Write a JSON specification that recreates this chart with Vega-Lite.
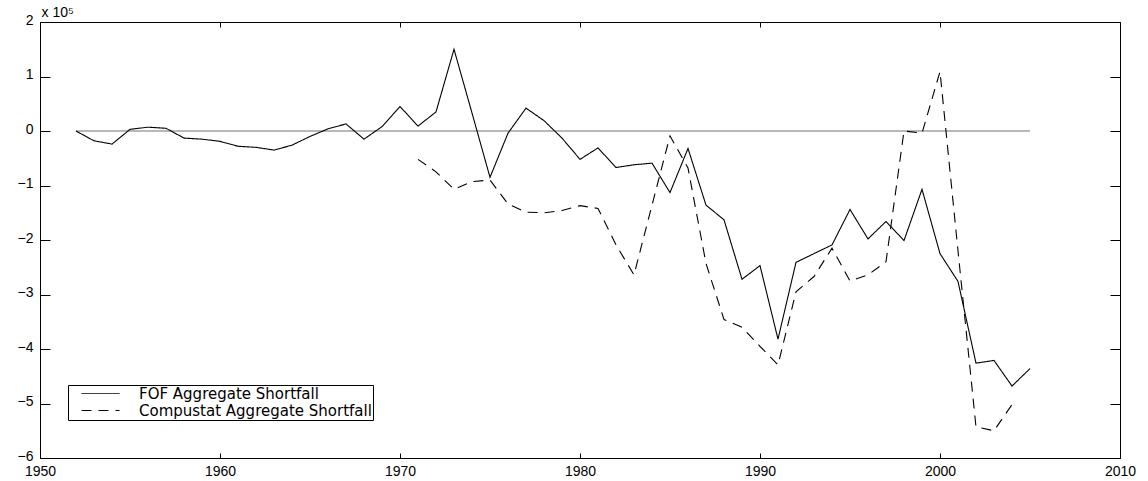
{
  "$schema": "https://vega.github.io/schema/vega-lite/v6.json",
  "width": 1080,
  "height": 436,
  "autosize": "none",
  "padding": {"left": 40, "top": 22, "right": 28, "bottom": 23},
  "background": "white",
  "config": {
    "view": {"stroke": null},
    "font": "Liberation Sans"
  },
  "datasets": {
    "zero": [
      {"year": 1952, "value": 0},
      {"year": 2005, "value": 0}
    ],
    "series": [
      {"year": 1952, "value": 0, "series": "FOF Aggregate Shortfall"},
      {"year": 1953, "value": -18000, "series": "FOF Aggregate Shortfall"},
      {"year": 1954, "value": -24000, "series": "FOF Aggregate Shortfall"},
      {"year": 1955, "value": 3000, "series": "FOF Aggregate Shortfall"},
      {"year": 1956, "value": 7000, "series": "FOF Aggregate Shortfall"},
      {"year": 1957, "value": 5000, "series": "FOF Aggregate Shortfall"},
      {"year": 1958, "value": -13000, "series": "FOF Aggregate Shortfall"},
      {"year": 1959, "value": -15000, "series": "FOF Aggregate Shortfall"},
      {"year": 1960, "value": -19000, "series": "FOF Aggregate Shortfall"},
      {"year": 1961, "value": -28000, "series": "FOF Aggregate Shortfall"},
      {"year": 1962, "value": -30000, "series": "FOF Aggregate Shortfall"},
      {"year": 1963, "value": -35000, "series": "FOF Aggregate Shortfall"},
      {"year": 1964, "value": -26000, "series": "FOF Aggregate Shortfall"},
      {"year": 1965, "value": -10000, "series": "FOF Aggregate Shortfall"},
      {"year": 1966, "value": 4000, "series": "FOF Aggregate Shortfall"},
      {"year": 1967, "value": 13000, "series": "FOF Aggregate Shortfall"},
      {"year": 1968, "value": -15000, "series": "FOF Aggregate Shortfall"},
      {"year": 1969, "value": 8000, "series": "FOF Aggregate Shortfall"},
      {"year": 1970, "value": 45000, "series": "FOF Aggregate Shortfall"},
      {"year": 1971, "value": 9000, "series": "FOF Aggregate Shortfall"},
      {"year": 1972, "value": 35000, "series": "FOF Aggregate Shortfall"},
      {"year": 1973, "value": 150000, "series": "FOF Aggregate Shortfall"},
      {"year": 1974, "value": 33000, "series": "FOF Aggregate Shortfall"},
      {"year": 1975, "value": -85000, "series": "FOF Aggregate Shortfall"},
      {"year": 1976, "value": -4000, "series": "FOF Aggregate Shortfall"},
      {"year": 1977, "value": 42000, "series": "FOF Aggregate Shortfall"},
      {"year": 1978, "value": 19000, "series": "FOF Aggregate Shortfall"},
      {"year": 1979, "value": -13000, "series": "FOF Aggregate Shortfall"},
      {"year": 1980, "value": -52000, "series": "FOF Aggregate Shortfall"},
      {"year": 1981, "value": -31000, "series": "FOF Aggregate Shortfall"},
      {"year": 1982, "value": -67000, "series": "FOF Aggregate Shortfall"},
      {"year": 1983, "value": -62000, "series": "FOF Aggregate Shortfall"},
      {"year": 1984, "value": -59000, "series": "FOF Aggregate Shortfall"},
      {"year": 1985, "value": -113000, "series": "FOF Aggregate Shortfall"},
      {"year": 1986, "value": -32000, "series": "FOF Aggregate Shortfall"},
      {"year": 1987, "value": -136000, "series": "FOF Aggregate Shortfall"},
      {"year": 1988, "value": -163000, "series": "FOF Aggregate Shortfall"},
      {"year": 1989, "value": -272000, "series": "FOF Aggregate Shortfall"},
      {"year": 1990, "value": -247000, "series": "FOF Aggregate Shortfall"},
      {"year": 1991, "value": -382000, "series": "FOF Aggregate Shortfall"},
      {"year": 1992, "value": -241000, "series": "FOF Aggregate Shortfall"},
      {"year": 1993, "value": -225000, "series": "FOF Aggregate Shortfall"},
      {"year": 1994, "value": -209000, "series": "FOF Aggregate Shortfall"},
      {"year": 1995, "value": -144000, "series": "FOF Aggregate Shortfall"},
      {"year": 1996, "value": -198000, "series": "FOF Aggregate Shortfall"},
      {"year": 1997, "value": -166000, "series": "FOF Aggregate Shortfall"},
      {"year": 1998, "value": -201000, "series": "FOF Aggregate Shortfall"},
      {"year": 1999, "value": -107000, "series": "FOF Aggregate Shortfall"},
      {"year": 2000, "value": -225000, "series": "FOF Aggregate Shortfall"},
      {"year": 2001, "value": -276000, "series": "FOF Aggregate Shortfall"},
      {"year": 2002, "value": -426000, "series": "FOF Aggregate Shortfall"},
      {"year": 2003, "value": -421000, "series": "FOF Aggregate Shortfall"},
      {"year": 2004, "value": -468000, "series": "FOF Aggregate Shortfall"},
      {"year": 2005, "value": -436000, "series": "FOF Aggregate Shortfall"},
      {"year": 1971, "value": -52000, "series": "Compustat Aggregate Shortfall"},
      {"year": 1972, "value": -75000, "series": "Compustat Aggregate Shortfall"},
      {"year": 1973, "value": -107000, "series": "Compustat Aggregate Shortfall"},
      {"year": 1974, "value": -93000, "series": "Compustat Aggregate Shortfall"},
      {"year": 1975, "value": -90000, "series": "Compustat Aggregate Shortfall"},
      {"year": 1976, "value": -134000, "series": "Compustat Aggregate Shortfall"},
      {"year": 1977, "value": -149000, "series": "Compustat Aggregate Shortfall"},
      {"year": 1978, "value": -150000, "series": "Compustat Aggregate Shortfall"},
      {"year": 1979, "value": -146000, "series": "Compustat Aggregate Shortfall"},
      {"year": 1980, "value": -137000, "series": "Compustat Aggregate Shortfall"},
      {"year": 1981, "value": -142000, "series": "Compustat Aggregate Shortfall"},
      {"year": 1982, "value": -209000, "series": "Compustat Aggregate Shortfall"},
      {"year": 1983, "value": -264000, "series": "Compustat Aggregate Shortfall"},
      {"year": 1984, "value": -136000, "series": "Compustat Aggregate Shortfall"},
      {"year": 1985, "value": -9000, "series": "Compustat Aggregate Shortfall"},
      {"year": 1986, "value": -68000, "series": "Compustat Aggregate Shortfall"},
      {"year": 1987, "value": -243000, "series": "Compustat Aggregate Shortfall"},
      {"year": 1988, "value": -346000, "series": "Compustat Aggregate Shortfall"},
      {"year": 1989, "value": -360000, "series": "Compustat Aggregate Shortfall"},
      {"year": 1990, "value": -395000, "series": "Compustat Aggregate Shortfall"},
      {"year": 1991, "value": -429000, "series": "Compustat Aggregate Shortfall"},
      {"year": 1992, "value": -295000, "series": "Compustat Aggregate Shortfall"},
      {"year": 1993, "value": -267000, "series": "Compustat Aggregate Shortfall"},
      {"year": 1994, "value": -215000, "series": "Compustat Aggregate Shortfall"},
      {"year": 1995, "value": -275000, "series": "Compustat Aggregate Shortfall"},
      {"year": 1996, "value": -264000, "series": "Compustat Aggregate Shortfall"},
      {"year": 1997, "value": -240000, "series": "Compustat Aggregate Shortfall"},
      {"year": 1998, "value": 0, "series": "Compustat Aggregate Shortfall"},
      {"year": 1999, "value": -4000, "series": "Compustat Aggregate Shortfall"},
      {"year": 2000, "value": 109000, "series": "Compustat Aggregate Shortfall"},
      {"year": 2001, "value": -220000, "series": "Compustat Aggregate Shortfall"},
      {"year": 2002, "value": -543000, "series": "Compustat Aggregate Shortfall"},
      {"year": 2003, "value": -550000, "series": "Compustat Aggregate Shortfall"},
      {"year": 2004, "value": -502000, "series": "Compustat Aggregate Shortfall"}
    ]
  },
  "layer": [
    {
      "data": {"name": "zero"},
      "mark": {"type": "line", "color": "#a0a0a0", "strokeWidth": 1.5},
      "encoding": {
        "x": {
          "field": "year", "type": "quantitative",
          "scale": {"domain": [1950, 2010], "nice": false, "zero": false},
          "axis": {
            "orient": "bottom", "title": null, "grid": false,
            "domainColor": "black", "domainWidth": 1,
            "tickColor": "black", "tickWidth": 1,
            "values": [1950, 1960, 1970, 1980, 1990, 2000, 2010],
            "format": "d", "tickSize": -5, "labelPadding": 11,
            "labelFont": "Liberation Sans", "labelFontSize": 14, "labelColor": "black",
            "labelFlush": false, "labelOverlap": false
          }
        },
        "y": {
          "field": "value", "type": "quantitative",
          "scale": {"domain": [-600000, 200000], "nice": false, "zero": false},
          "axis": {
            "orient": "left", "grid": false,
            "domainColor": "black", "domainWidth": 1,
            "tickColor": "black", "tickWidth": 1,
            "title": "x 10⁵",
            "titleAngle": 0, "titleX": 1, "titleY": -6,
            "titleAlign": "left", "titleBaseline": "alphabetic",
            "titleFontSize": 14, "titleFontWeight": "normal", "titleFont": "Liberation Sans",
            "titleColor": "black",
            "values": [-600000, -500000, -400000, -300000, -200000, -100000, 0, 100000, 200000],
            "labelExpr": "format(datum.value / 100000, 'd')",
            "tickSize": -10, "labelPadding": 17, "labelOffset": -2,
            "labelFont": "Liberation Sans", "labelFontSize": 14, "labelColor": "black",
            "labelFlush": false, "labelOverlap": false
          }
        }
      }
    },
    {
      "data": {"name": "series"},
      "mark": {"type": "line", "color": "black", "strokeWidth": 1.1},
      "encoding": {
        "x": {
          "field": "year", "type": "quantitative",
          "axis": {
            "orient": "top", "title": null, "labels": false, "grid": false,
            "domainColor": "black", "domainWidth": 1,
            "tickColor": "black", "tickWidth": 1,
            "values": [1950, 1960, 1970, 1980, 1990, 2000, 2010],
            "tickSize": -5
          }
        },
        "y": {
          "field": "value", "type": "quantitative",
          "axis": {
            "orient": "right", "title": null, "labels": false, "grid": false,
            "domainColor": "black", "domainWidth": 1,
            "tickColor": "black", "tickWidth": 1,
            "values": [-600000, -500000, -400000, -300000, -200000, -100000, 0, 100000, 200000],
            "tickSize": -10
          }
        },
        "strokeDash": {
          "field": "series", "type": "nominal",
          "scale": {
            "domain": ["FOF Aggregate Shortfall", "Compustat Aggregate Shortfall"],
            "range": [[1, 0], [10, 7]]
          },
          "legend": {
            "title": null,
            "orient": "none",
            "legendX": 28,
            "legendY": 363,
            "strokeColor": "black",
            "fillColor": "white",
            "padding": 1,
            "rowPadding": 1,
            "symbolType": "M-3.8,0H3.8",
            "symbolSize": 100,
            "symbolOffset": 24,
            "symbolStrokeColor": "black",
            "symbolStrokeWidth": 1,
            "labelOffset": 31,
            "labelFont": "DejaVu Sans",
            "labelFontSize": 15,
            "labelColor": "black",
            "labelLimit": 500
          }
        }
      }
    }
  ],
  "resolve": {
    "axis": {"x": "independent", "y": "independent"}
  }
}
